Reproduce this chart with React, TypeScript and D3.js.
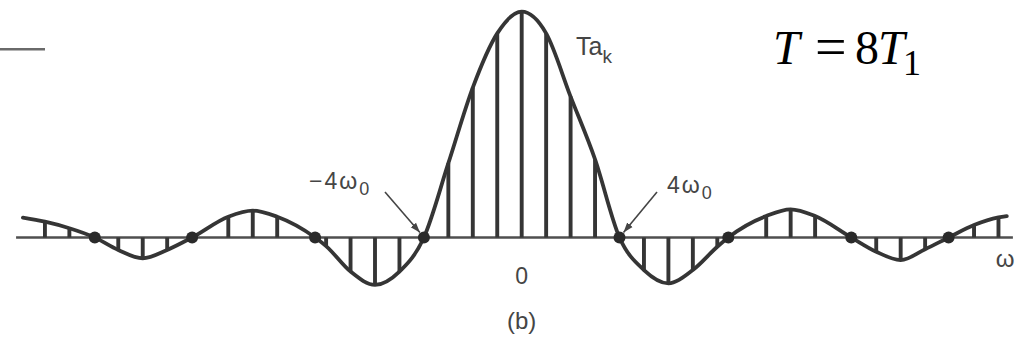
import React from "react";
import * as d3 from "d3";

// Spectral line positions, in units of ω0, and the coefficient values Ta_k (normalised so Ta_0 = 1)
const lineOmega = [
  -19.5, -18.5, -16.5, -15.5, -14.5, -12, -11, -10, -8, -7, -6, -5, -3, -2, -1, 0,
  1, 2, 3, 5, 6, 7, 8, 10, 11, 12, 14.5, 15.5, 16.5, 18.5, 19.5,
];
const lineValue = [
  0.07, 0.041, -0.055, -0.092, -0.055, 0.092, 0.119, 0.092, -0.038, -0.151, -0.21, -0.151, 0.329, 0.664, 0.904, 1,
  0.904, 0.624, 0.346, -0.144, -0.203, -0.144, -0.041, 0.095, 0.125, 0.095, -0.063, -0.1, -0.052, 0.055, 0.089,
];

// Zero crossings of the envelope (marked with dots)
const zeroOmega = [-17.46, -13.48, -8.45, -4, 4, 8.45, 13.48, 17.46];

// Ends of the drawn envelope
const envelopeEndOmega = [-20.4, 19.84];
const envelopeEndValue = [0.088, 0.095];

// Extent of the ω axis
const axisOmega = [-20.68, 20.09];

const W = 1021;
const H = 342;

const x = d3.scaleLinear().domain([-20, 20]).range([521.7 - 489, 521.7 + 489]);
const y = d3.scaleLinear().domain([-0.25, 1]).range([237.5 + 0.25 * 225.8, 11.7]);

type Pt = [number, number];

const envelopePts: Pt[] = [
  ...lineOmega.map((w, i) => [w, lineValue[i]] as Pt),
  ...zeroOmega.map((w) => [w, 0] as Pt),
  ...envelopeEndOmega.map((w, i) => [w, envelopeEndValue[i]] as Pt),
].sort((a, b) => a[0] - b[0]);

const envelope = d3
  .line<Pt>()
  .x((d) => x(d[0]))
  .y((d) => y(d[1]))
  .curve(d3.curveMonotoneX);

const ink = "#363636";
const sans = "'Liberation Sans', Arial, Helvetica, sans-serif";
const serif = "'Liberation Serif', 'Times New Roman', serif";

export default function App() {
  const y0 = y(0);
  return (
    <svg
      width={W}
      height={H}
      style={{ position: "absolute", left: 0, top: 0, background: "#fff" }}
    >
      <defs>
        <marker
          id="arrowHead"
          viewBox="0 0 10 10"
          refX="10"
          refY="5"
          markerWidth="10"
          markerHeight="10"
          orient="auto"
          markerUnits="userSpaceOnUse"
        >
          <path d="M0,1.5 L10,5 L0,8.5 Z" fill="#444" />
        </marker>
        <filter id="soft" x="-5%" y="-5%" width="110%" height="110%">
          <feGaussianBlur stdDeviation="0.35" />
        </filter>
      </defs>

      {/* short rule at the top left */}
      <line x1={0} x2={45} y1={49.3} y2={49.3} stroke="#6a6a6a" strokeWidth={2.5} />

      <g filter="url(#soft)">
        {/* ω axis */}
        <line
          x1={x(axisOmega[0])}
          x2={x(axisOmega[1])}
          y1={y0}
          y2={y0}
          stroke="#505050"
          strokeWidth={2.5}
        />

        {/* spectral lines */}
        {lineOmega.map((w, i) => (
          <line
            key={`l${i}`}
            x1={x(w)}
            x2={x(w)}
            y1={y0}
            y2={y(lineValue[i])}
            stroke={ink}
            strokeWidth={3.9}
          />
        ))}

        {/* envelope */}
        <path
          d={envelope(envelopePts) ?? ""}
          fill="none"
          stroke={ink}
          strokeWidth={3.8}
          strokeLinecap="round"
        />

        {/* zero-crossing dots */}
        {zeroOmega.map((w, i) => (
          <circle key={`z${i}`} cx={x(w)} cy={y0} r={6} fill="#2a2a2a" />
        ))}

        {/* arrows pointing at ±4ω0 */}
        <line
          x1={385}
          y1={192}
          x2={x(-4) - 4}
          y2={y0 - 5}
          stroke="#444"
          strokeWidth={1.6}
          markerEnd="url(#arrowHead)"
        />
        <line
          x1={657}
          y1={192}
          x2={x(4) + 4}
          y2={y0 - 5}
          stroke="#444"
          strokeWidth={1.6}
          markerEnd="url(#arrowHead)"
        />
      </g>

      {/* labels */}
      <g fill="#454545" fontFamily={sans}>
        <text x={309} y={189} fontSize={23} letterSpacing={2}>
          −4ω<tspan fontSize={18} dy={6}>0</tspan>
        </text>
        <text x={667} y={193} fontSize={23} letterSpacing={2}>
          4ω<tspan fontSize={18} dy={6}>0</tspan>
        </text>
        <text x={576} y={55} fontSize={25}>
          Ta<tspan fontSize={19} dy={8}>k</tspan>
        </text>
        <text x={x(0)} y={284} fontSize={23} textAnchor="middle">
          0
        </text>
        <text x={x(0)} y={329} fontSize={24} textAnchor="middle">
          (b)
        </text>
        <text x={1005} y={267} fontSize={24} textAnchor="middle">
          ω
        </text>
      </g>

      {/* period relation */}
      <text fill="#000" fontFamily={serif} fontSize={48} y={63.5}>
        <tspan x={773} fontStyle="italic">T</tspan>
        <tspan x={815} y={66} fontSize={56}>=</tspan>
        <tspan x={855} y={63.5}>8</tspan>
        <tspan x={878} fontStyle="italic">T</tspan>
        <tspan x={903} y={75} fontSize={36}>1</tspan>
      </text>
    </svg>
  );
}
